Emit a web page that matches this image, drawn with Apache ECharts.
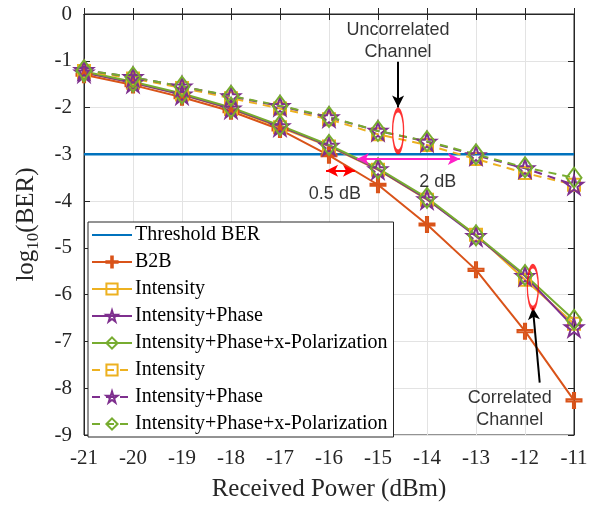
<!DOCTYPE html>
<html>
<head>
<meta charset="utf-8">
<script src="https://cdn.jsdelivr.net/npm/echarts@6/dist/echarts.min.js"></script>
<style>
  html, body { margin: 0; padding: 0; background: #fff; }
  #main { width: 597px; height: 507px; }
</style>
</head>
<body>
<div id="main"></div>
<script>
// received power (dBm)
var power = [-21, -20, -19, -18, -17, -16, -15, -14, -13, -12, -11];

// log10(BER) values
var b2b = [-1.30, -1.52, -1.78, -2.08, -2.47, -3.02, -3.65, -4.50, -5.47, -6.78, -8.26];
// correlated channel (solid)
var corrI   = [-1.25, -1.47, -1.72, -2.03, -2.42, -2.83, -3.33, -3.97, -4.72, -5.68, -6.62];
var corrIP  = [-1.25, -1.47, -1.72, -2.02, -2.40, -2.82, -3.32, -3.96, -4.75, -5.60, -6.70];
var corrIPX = [-1.23, -1.45, -1.70, -2.00, -2.38, -2.80, -3.30, -3.93, -4.73, -5.58, -6.54];
// uncorrelated channel (dashed)
var uncI    = [-1.22, -1.38, -1.58, -1.80, -2.02, -2.25, -2.57, -2.80, -3.10, -3.40, -3.65];
var uncIP   = [-1.20, -1.35, -1.55, -1.76, -1.97, -2.21, -2.50, -2.73, -3.02, -3.30, -3.65];
var uncIPX  = [-1.20, -1.35, -1.55, -1.75, -1.96, -2.20, -2.50, -2.72, -3.00, -3.28, -3.50];

var threshold = -3;
var xTicks = [-21, -11];
var yRange = [-9, 0];

var C = {
  blue: '#0072BD', orange: '#D95319', yellow: '#EDB120',
  purple: '#7E2F8E', green: '#77AC30'
};
var serif = '"Liberation Serif", "Times New Roman", serif';
var sans = '"Liberation Sans", Arial, sans-serif';

var plusPath = 'path://M4.3,0 L5.7,0 L5.7,4.3 L10,4.3 L10,5.7 L5.7,5.7 L5.7,10 L4.3,10 L4.3,5.7 L0,5.7 L0,4.3 L4.3,4.3 Z';
var starPath = 'path://M50,0 L61,35 L98,35 L68,57 L79,91 L50,70 L21,91 L32,57 L2,35 L39,35 Z';

function pairs(ys) {
  return power.map(function (x, i) { return [x, ys[i]]; });
}

function curve(name, ys, color, symbol, size, dashed) {
  return {
    name: name,
    type: 'line',
    data: pairs(ys),
    symbol: symbol,
    symbolSize: size,
    showAllSymbol: true,
    lineStyle: { color: color, width: 2, type: dashed ? [8, 6] : 'solid' },
    itemStyle: { color: 'rgba(255,255,255,0)', borderColor: color, borderWidth: 2 },
    emphasis: { disabled: true },
    animation: false
  };
}

var myChart = echarts.init(document.getElementById('main'));

var option = {
  animation: false,
  grid: { left: 84, right: 23, top: 14, bottom: 69, show: true, borderColor: '#262626', borderWidth: 1, backgroundColor: '#fff' },
  legend: {
    orient: 'vertical',
    left: 88, top: 222,
    itemWidth: 40, itemHeight: 14, itemGap: 7,
    padding: [3, 6, 3, 3],
    backgroundColor: '#fff',
    borderColor: '#262626', borderWidth: 1,
    borderRadius: 0,
    selectedMode: false,
    textStyle: { fontFamily: serif, fontSize: 20, color: '#000', lineHeight: 20, padding: [0, 0, 0, -2] },
    formatter: function (n) { return n.replace(' (U)', ''); },
    data: [{ name: 'Threshold BER', itemStyle: { opacity: 0 } }, 'B2B', 'Intensity', 'Intensity+Phase', 'Intensity+Phase+x-Polarization',
           'Intensity (U)', 'Intensity+Phase (U)', 'Intensity+Phase+x-Polarization (U)']
  },
  xAxis: [{
    type: 'value', min: xTicks[0], max: xTicks[1], interval: 1,
    name: 'Received Power (dBm)', nameLocation: 'middle', nameGap: 42,
    nameTextStyle: { fontFamily: serif, fontSize: 25, color: '#262626' },
    axisLine: { lineStyle: { color: '#262626' } },
    axisTick: { inside: true, length: 6, lineStyle: { color: '#262626' } },
    axisLabel: { fontFamily: serif, fontSize: 21, color: '#262626', margin: 13 },
    splitLine: { show: true, lineStyle: { color: '#e3e3e3', width: 1 } }
  }, {
    type: 'value', position: 'top', min: xTicks[0], max: xTicks[1], interval: 1,
    axisLine: { show: true, lineStyle: { color: '#262626' } },
    axisTick: { inside: true, length: 6, lineStyle: { color: '#262626' } },
    axisLabel: { show: false }, splitLine: { show: false }
  }],
  yAxis: [{
    type: 'value', min: yRange[0], max: yRange[1], interval: 1,
    name: '{a|log}{s|10}{a|(BER)}', nameLocation: 'middle', nameGap: 42,
    nameTextStyle: {
      rich: {
        a: { fontFamily: serif, fontSize: 25, color: '#262626' },
        s: { fontFamily: serif, fontSize: 17, color: '#262626', verticalAlign: 'bottom', padding: [14, 0, 0, 0] }
      }
    },
    axisLine: { show: true, lineStyle: { color: '#262626' } },
    axisTick: { inside: true, length: 6, lineStyle: { color: '#262626' } },
    axisLabel: { fontFamily: serif, fontSize: 21, color: '#262626', margin: 12 },
    splitLine: { show: true, lineStyle: { color: '#e3e3e3', width: 1 } }
  }, {
    type: 'value', position: 'right', min: yRange[0], max: yRange[1], interval: 1,
    axisLine: { show: true, lineStyle: { color: '#262626' } },
    axisTick: { inside: true, length: 6, lineStyle: { color: '#262626' } },
    axisLabel: { show: false }, splitLine: { show: false }
  }],
  series: [
    {
      name: 'Threshold BER', type: 'line',
      data: [[xTicks[0], threshold], [xTicks[1], threshold]],
      symbol: 'circle', symbolSize: 0, showSymbol: false,
      lineStyle: { color: C.blue, width: 2.5 },
      itemStyle: { color: C.blue },
      emphasis: { disabled: true },
      z: 1
    },
    curve('B2B', b2b, C.orange, plusPath, 15, false),
    curve('Intensity', corrI, C.yellow, 'rect', 12, false),
    curve('Intensity+Phase', corrIP, C.purple, starPath, 18, false),
    curve('Intensity+Phase+x-Polarization', corrIPX, C.green, 'diamond', [15, 20], false),
    curve('Intensity (U)', uncI, C.yellow, 'rect', 12, true),
    curve('Intensity+Phase (U)', uncIP, C.purple, starPath, 18, true),
    curve('Intensity+Phase+x-Polarization (U)', uncIPX, C.green, 'diamond', [15, 20], true),
    {
      // annotations: arrows
      name: 'arrows', type: 'line', data: [], z: 10,
      markLine: {
        silent: true, animation: false,
        label: { show: false },
        emphasis: { disabled: true },
        data: [
          [{ coord: [-14.59, -1.02], symbol: 'none', lineStyle: { color: '#000', width: 2, type: 'solid' } },
           { coord: [-14.59, -2.0], symbol: 'arrow', symbolSize: [9, 12] }],
          [{ coord: [-15.43, -3.1], symbol: 'arrow', symbolSize: [9, 12], lineStyle: { color: '#ff1fc8', width: 2, type: 'solid' } },
           { coord: [-13.33, -3.1], symbol: 'arrow', symbolSize: [9, 12] }],
          [{ coord: [-16.06, -3.35], symbol: 'arrow', symbolSize: [9, 12], lineStyle: { color: '#ff0000', width: 2, type: 'solid' } },
           { coord: [-15.47, -3.35], symbol: 'arrow', symbolSize: [9, 12] }],
          [{ coord: [-11.7, -7.88], symbol: 'none', lineStyle: { color: '#000', width: 2, type: 'solid' } },
           { coord: [-11.84, -6.28], symbol: 'arrow', symbolSize: [9, 12] }]
        ]
      }
    },
    {
      // annotations: ellipses
      name: 'ellipses', type: 'scatter', z: 11,
      symbol: 'circle', symbolSize: [11, 42],
      itemStyle: { color: 'rgba(0,0,0,0)', borderColor: '#ff0000', borderWidth: 2.5 },
      emphasis: { disabled: true },
      data: [[-14.59, -2.5], [-11.84, -5.84]]
    },
    {
      // annotations: texts
      name: 'texts', type: 'scatter', z: 12, symbolSize: 0,
      emphasis: { disabled: true },
      label: { show: true, position: 'inside', fontFamily: sans, fontSize: 18, color: '#000', lineHeight: 22,
        formatter: function (p) { return p.data[2]; } },
      data: [
        [-14.59, -0.58, 'Uncorrelated\nChannel'],
        [-13.78, -3.59, '2 dB'],
        [-15.88, -3.84, '0.5 dB'],
        [-12.31, -8.45, 'Correlated\nChannel']
      ]
    }
  ]
};

myChart.setOption(option);
</script>
</body>
</html>
